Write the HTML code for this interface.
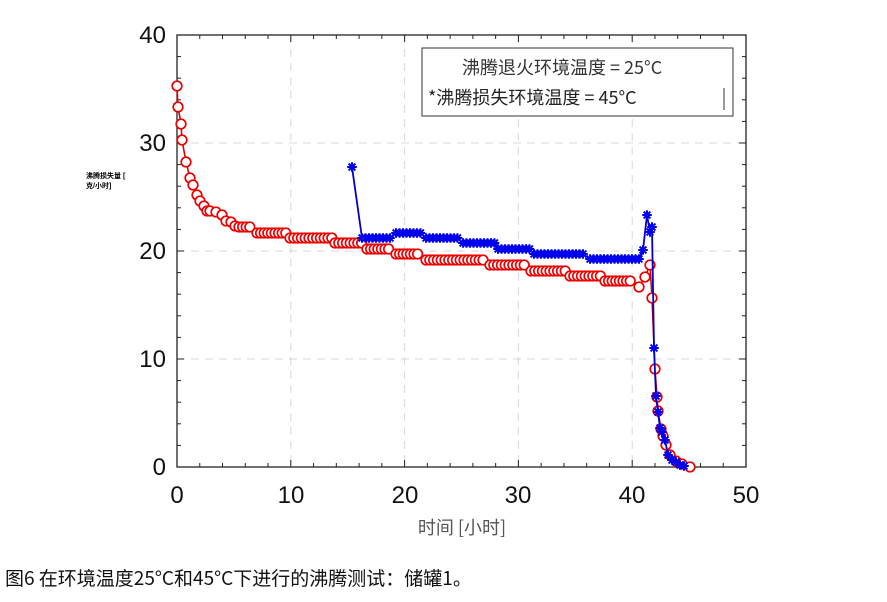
<!DOCTYPE html>
<html><head><meta charset="utf-8"><style>
body{margin:0;background:#fff;width:887px;height:602px;overflow:hidden;font-family:"Liberation Sans","Noto Sans CJK SC",sans-serif}
svg{position:absolute;left:0;top:0}
.cjk{font-family:"Noto Sans CJK SC",sans-serif}
</style></head><body>
<svg width="887" height="602" id="s" xmlns="http://www.w3.org/2000/svg">
<g id="grid" stroke="#d8d8d8" stroke-dasharray="8,6" stroke-width="1"></g>
<rect x="177" y="35" width="569" height="432" fill="none" stroke="#222" stroke-width="1.3"/>
<g id="ticks" stroke="#222" stroke-width="1"></g>
<g font-size="24" fill="#111" text-anchor="end">
<text x="166" y="475">0</text><text x="166" y="367">10</text><text x="166" y="259">20</text><text x="166" y="151">30</text><text x="166" y="43">40</text>
</g>
<g font-size="24" fill="#111" text-anchor="middle">
<text x="177" y="503">0</text><text x="291" y="503">10</text><text x="405" y="503">20</text><text x="518" y="503">30</text><text x="632" y="503">40</text><text x="746" y="503">50</text>
</g>
<text x="462" y="534" font-size="18" fill="#555" text-anchor="middle" class="cjk">时间 [小时]</text>
<text x="86" y="178" font-size="7" font-weight="bold" fill="#000">沸腾损失量 [</text>
<text x="86" y="188" font-size="7" font-weight="bold" fill="#000">克/小时]</text>
<rect x="422" y="48" width="311" height="68" fill="#fff" stroke="#333"/>
<text x="462" y="74" font-size="18" fill="#333" class="cjk">沸腾退火环境温度 = 25°C</text>
<text x="428" y="104" font-size="18" fill="#222" class="cjk">*沸腾损失环境温度 = 45°C</text>
<line x1="724" y1="88" x2="724" y2="110" stroke="#333"/>
<g id="red"></g><g id="blue"></g>
<text x="5" y="585" font-size="19" fill="#111" class="cjk">图6 在环境温度25°C和45°C下进行的沸腾测试：储罐1。</text>
</svg>
<script>
const NS="http://www.w3.org/2000/svg",s=document.getElementById('s');
function el(p,t,a){const e=document.createElementNS(NS,t);for(const k in a)e.setAttribute(k,a[k]);p.appendChild(e);return e}
const g=document.getElementById('grid'),tk=document.getElementById('ticks');
for(let i=1;i<5;i++){const x=177+i*113.8;el(g,'line',{x1:x,y1:35,x2:x,y2:467});}
for(let i=1;i<4;i++){const y=467-i*108;el(g,'line',{x1:177,y1:y,x2:746,y2:y});}
for(let i=0;i<=25;i++){const x=177+i*22.76,l=i%5?4:7;el(tk,'line',{x1:x,y1:467,x2:x,y2:467-l});el(tk,'line',{x1:x,y1:35,x2:x,y2:35+l});}
for(let i=0;i<=20;i++){const y=467-i*21.6,l=i%5?4:7;el(tk,'line',{x1:177,y1:y,x2:177+l,y2:y});el(tk,'line',{x1:746,y1:y,x2:746-l,y2:y});}
function run(a,b,y,st){const r=[];for(let x=a;x<=b+0.01;x+=st)r.push([x,y]);return r}
let R=[[177,86],[178,107],[181,124],[182,140],[186,162],[190,178],[193,185],[197,195],[200,201],[204,206],[207,211],[210,211],[216,212],[222,215],[226,221],[231,222],[235,226]];
R=R.concat(run(239,253,227,3.6),run(257,286,233,3.6),run(290,332,238,3.8),run(335,362,243,3.8),run(367,392,249,3.6),run(396,421,254,3.6),run(426,485,260,3.8),run(490,527,265,3.8),run(531,566,271,3.8),run(570,601,276,3.8),run(605,633,281,3.6),
[[639,287],[645,277],[650,265],[652,298],[655,369],[657,397],[658,411],[661,429],[663,436],[666,445],[670,455],[676,461],[682,464],[690,467]]);
let B=[[352,167]].concat(run(362,392,238,3.5),run(396,422,233,3.5),run(426,460,238,3.5),run(463,495,243,3.5),run(498,530,249,3.5),run(534,586,254,3.5),run(590,640,259,3.5),
[[643,250],[647,215],[650,232],[652,227],[654,348],[656,396],[658,412],[660,428],[662,432],[665,440],[668,455],[672,460],[676,462],[680,465],[684,466]]);
const rg=document.getElementById('red'),bg=document.getElementById('blue');
el(rg,'polyline',{points:R.map(p=>p.join(',')).join(' '),fill:'none',stroke:'#d00',"stroke-width":1.6});
R.forEach(p=>el(rg,'circle',{cx:p[0],cy:p[1],r:4.8,fill:'#fff',stroke:'#e00',"stroke-width":1.7}));
el(bg,'polyline',{points:B.map(p=>p.join(',')).join(' '),fill:'none',stroke:'#0000cc',"stroke-width":1.8});
B.forEach(p=>{const d=4.8;const pth=`M${p[0]-d},${p[1]}h${2*d}M${p[0]},${p[1]-d}v${2*d}M${p[0]-3.4},${p[1]-3.4}l6.8,6.8M${p[0]-3.4},${p[1]+3.4}l6.8,-6.8`;el(bg,'path',{d:pth,stroke:'#0000ee',"stroke-width":2,fill:'none'});});
</script>
</body></html>
